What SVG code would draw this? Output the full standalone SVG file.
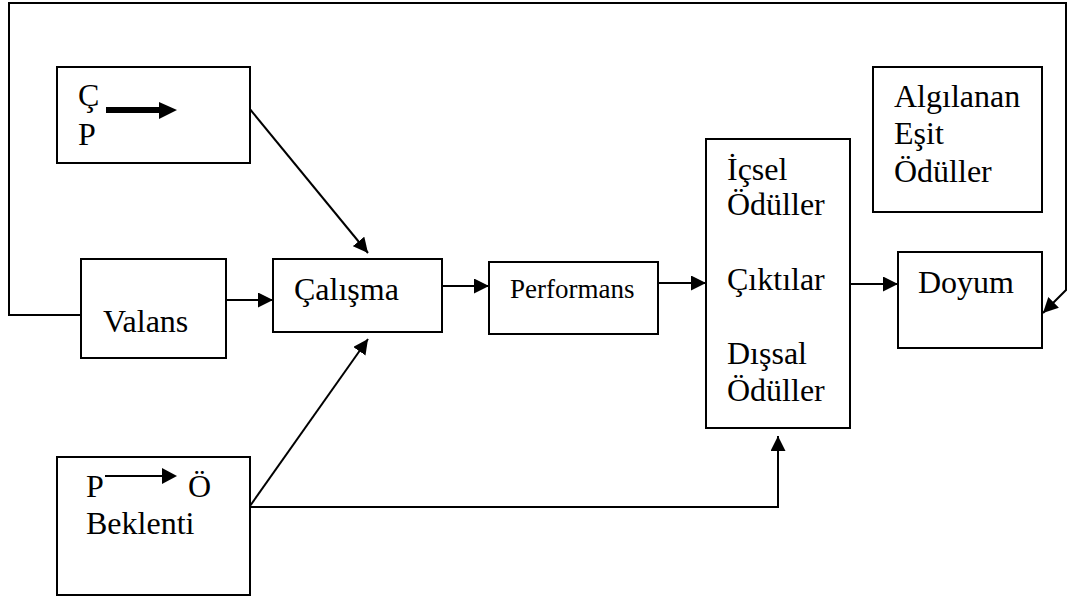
<svg xmlns="http://www.w3.org/2000/svg" width="1067" height="598" viewBox="0 0 1067 598">
<style>
.box{fill:#fff;stroke:#000;stroke-width:2}
.t{font-size:32px;fill:#000}
.c{fill:none;stroke:#000;stroke-width:2}
</style>
<defs>
<marker id="ah" markerUnits="userSpaceOnUse" markerWidth="15" markerHeight="15" refX="15" refY="7.5" orient="auto">
<path d="M0,0 L15,7.5 L0,15 z" fill="#000"/>
</marker>
</defs>
<rect width="1067" height="598" fill="#fff"/>
<g id="connectors">
<polyline class="c" points="81,315 9,315 9,3 1066,3 1066,290 1043,313" marker-end="url(#ah)"/>
<line class="c" x1="249" y1="108" x2="368" y2="253" marker-end="url(#ah)"/>
<line class="c" x1="250" y1="506" x2="368" y2="339" marker-end="url(#ah)"/>
<line class="c" x1="226" y1="300" x2="273" y2="300" marker-end="url(#ah)"/>
<line class="c" x1="442" y1="286" x2="489" y2="286" marker-end="url(#ah)"/>
<line class="c" x1="658" y1="283" x2="706" y2="283" marker-end="url(#ah)"/>
<line class="c" x1="850" y1="284" x2="898" y2="284" marker-end="url(#ah)"/>
<polyline class="c" points="250,507 778,507 778,436" marker-end="url(#ah)"/>
</g>
<g font-family="'Liberation Serif', 'DejaVu Serif', serif">
<g id="node-cp">
<rect class="box" x="57" y="67" width="193" height="96"/>
<text class="t" x="78" y="106" font-size="29">Ç</text>
<text class="t" x="78" y="145" font-size="29">P</text>
<rect x="106" y="107" width="55" height="6" fill="#000"/>
<polygon points="159,102 177,110 159,119" fill="#000"/>
</g>
<g id="node-valans">
<rect class="box" x="81" y="259" width="145" height="99"/>
<text class="t" x="103" y="332">Valans</text>
</g>
<g id="node-calisma">
<rect class="box" x="273" y="259" width="169" height="73"/>
<text class="t" x="294" y="300">Çalışma</text>
</g>
<g id="node-performans">
<rect class="box" x="489" y="262" width="169" height="72"/>
<text class="t" x="510" y="298" style="font-size:27px">Performans</text>
</g>
<g id="node-ciktilar">
<rect class="box" x="706" y="139" width="144" height="289"/>
<text class="t" x="727" y="180">İçsel</text>
<text class="t" x="727" y="215">Ödüller</text>
<text class="t" x="727" y="290">Çıktılar</text>
<text class="t" x="727" y="364">Dışsal</text>
<text class="t" x="727" y="401">Ödüller</text>
</g>
<g id="node-algilanan">
<rect class="box" x="873" y="67" width="169" height="145"/>
<text class="t" x="894" y="107">Algılanan</text>
<text class="t" x="894" y="144">Eşit</text>
<text class="t" x="894" y="182">Ödüller</text>
</g>
<g id="node-doyum">
<rect class="box" x="898" y="252" width="144" height="96"/>
<text class="t" x="918" y="293">Doyum</text>
</g>
<g id="node-beklenti">
<rect class="box" x="57" y="457" width="193" height="138"/>
<text class="t" x="86" y="497">P</text>
<line x1="105" y1="476" x2="164" y2="476" stroke="#000" stroke-width="2"/>
<polygon points="162,468 177,476 162,484" fill="#000"/>
<text class="t" x="188" y="497">Ö</text>
<text class="t" x="86" y="534">Beklenti</text>
</g>
</g>
</svg>
